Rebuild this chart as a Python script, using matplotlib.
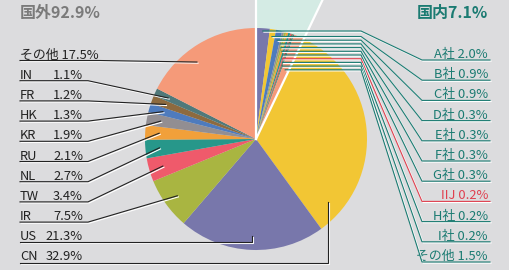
import numpy as np
import matplotlib.pyplot as plt
import matplotlib.patheffects as pe
from matplotlib.patches import Polygon

plt.rcParams['font.family'] = ['Noto Sans CJK JP', 'DejaVu Sans']

# domestic share by company (first, clockwise from 12 o'clock)
home_names = ['A社', 'B社', 'C社', 'D社', 'E社', 'F社', 'G社', 'IIJ', 'H社', 'I社', 'その他']
home_values = [2.0, 0.9, 0.9, 0.3, 0.3, 0.3, 0.3, 0.2, 0.2, 0.2, 1.5]
home_colors = ['#7877ab', '#f2c634', '#4e7bbd', '#928e92', '#a9b541', '#f1a03a',
               '#27978a', '#ef5a6b', '#8d6a3e', '#50797a', '#f59a79']

# overseas share by country (after the domestic block)
abroad_names = ['CN', 'US', 'IR', 'TW', 'NL', 'RU', 'KR', 'HK', 'FR', 'IN', 'その他']
abroad_values = [32.9, 21.3, 7.5, 3.4, 2.7, 2.1, 1.9, 1.3, 1.2, 1.1, 17.5]
abroad_colors = ['#f2c634', '#7877ab', '#a9b541', '#ef5a6b', '#27978a', '#f1a03a',
                 '#928e92', '#4e7bbd', '#8d6a3e', '#50797a', '#f59a79']

bg = '#dcdcde'
teal = '#1b7b72'
dark = '#222222'

# pie geometry in pixel coords (y down)
cx, cy, R = 256, 139, 111

values = home_values + abroad_values
colors = home_colors + abroad_colors
bounds = np.concatenate([[0], np.cumsum(values)]) / np.sum(values) * 360
mids = (bounds[:-1] + bounds[1:]) / 2
home_mids = mids[:len(home_values)]
abroad_mids = dict(zip(abroad_names, mids[len(home_values):]))
dom_angle = bounds[len(home_values)]


def pt(angle, r):
    # angle clockwise from top, in degrees
    t = np.radians(angle)
    return cx + r * np.sin(t), cy - r * np.cos(t)


shadow = [pe.SimpleLineShadow(offset=(0.8, -0.8), shadow_color='white', alpha=1), pe.Normal()]

fig = plt.figure(figsize=(5.1, 2.7), dpi=100)
fig.patch.set_facecolor(bg)
ax = fig.add_axes([0, 0, 1, 1])
ax.set_facecolor(bg)

# mint fan for the domestic wedge
x_top = cx + cy * np.tan(np.radians(dom_angle))
ax.add_patch(Polygon([(cx, cy), (cx, 0), (x_top, 0)], closed=True,
                     facecolor='#d4ebe4', edgecolor='none', zorder=0))

ax.pie(values, colors=colors, startangle=-90, counterclock=True, radius=R,
       center=(cx, cy), wedgeprops=dict(linewidth=0), frame=True)

ax.plot([cx, cx], [cy, 0], color='white', lw=1.6, zorder=3)
ax.plot([cx, x_top], [cy, 0], color='white', lw=1.6, zorder=3)

# left labels (overseas), top to bottom
left_order = abroad_names[::-1]
left_vals = abroad_values[::-1]
anchor_override = {'CN': (131, 95.7), 'その他': (322.5, 97)}
for k, (name, v) in enumerate(zip(left_order, left_vals)):
    row = 60.5 + 20.2 * k
    if name in anchor_override:
        a, r = anchor_override[name]
    else:
        a, r = abroad_mids[name], 97
    axx, ayy = pt(a, r)
    if name in ('US', 'CN'):
        xs, ys = [20, axx, axx], [row, row, ayy]
    elif name == 'その他':
        xs, ys = [20, 100, axx], [row, row, ayy]
    else:
        xs, ys = [20, 88, axx], [row, row, ayy]
    ax.plot(xs, ys, color=dark, lw=0.8, zorder=5, path_effects=shadow,
            solid_joinstyle='miter')
    if len(name) > 2:
        ax.text(20, row - 2, f'{name} {v:.1f}%', fontsize=9.3, color=dark, va='baseline')
    else:
        ax.text(20, row - 2, name, fontsize=9.3, color=dark, va='baseline')
        ax.text(83, row - 2, f'{v:.1f}%', fontsize=9.3, color=dark, va='baseline', ha='right')

# right labels (domestic)
for k, (name, v) in enumerate(zip(home_names, home_values)):
    row = 60 + 20.2 * k
    hy = 31 if k == 0 else 36.5 + 3.7 * (k - 1)
    hx = cx + (cy - hy) * np.tan(np.radians(home_mids[k]))
    c = '#e0404f' if name == 'IIJ' else teal
    ax.plot([hx, 361, 422, 490], [hy, hy, row, row], color=c, lw=0.8, zorder=5,
            path_effects=shadow, solid_joinstyle='miter')
    ax.text(488, row - 2, f'{name} {v:.1f}%', fontsize=9.3, color=c, va='baseline', ha='right')

ax.text(20, 18, f'国外{sum(abroad_values):.1f}%', fontsize=11.5, fontweight='bold',
        color='#7a7a7a', va='baseline')
ax.text(488, 18, f'国内{sum(home_values):.1f}%', fontsize=11.5, fontweight='bold',
        color=teal, va='baseline', ha='right')

ax.set_xlim(0, 510)
ax.set_ylim(270, 0)
ax.set_aspect('auto')
ax.axis('off')

fig.savefig('out.png', dpi=100, facecolor=bg)
